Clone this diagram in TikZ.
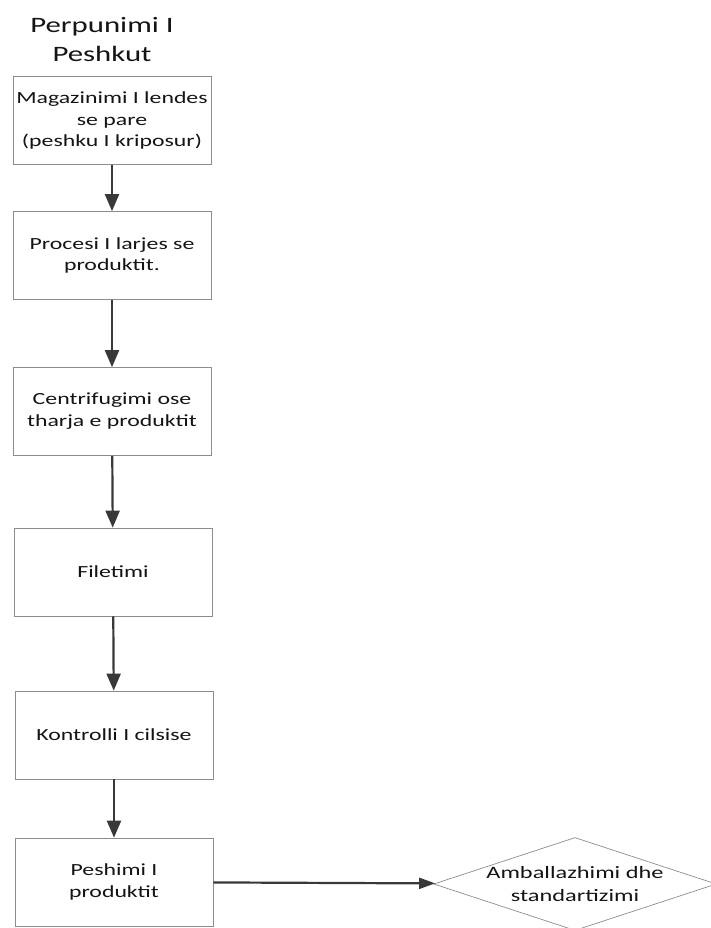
\documentclass[tikz,border=0pt]{standalone}
\usepackage{fontspec}
\setmainfont[FakeStretch=1.4]{Carlito}
\usetikzlibrary{arrows.meta,shapes.geometric}
\begin{document}
\begin{tikzpicture}[x=1pt,y=-1pt,
  stepbox/.style={draw=black!45, line width=0.7pt, minimum width=198pt, minimum height=88pt,
    align=center, inner sep=0pt, font=\fontsize{17}{21.8}\selectfont, text=black!92},
  decbox/.style={diamond, draw=black!45, line width=0.7pt, minimum width=280pt, minimum height=92pt,
    shape aspect=3.04, align=center, inner sep=0pt, font=\fontsize{17.4}{22.5}\selectfont, text=black!92},
  arr/.style={draw=black!78, line width=2.2pt, -{Triangle[width=14pt,length=17pt]}},
  harr/.style={draw=black!78, line width=2.2pt, -{Triangle[width=11pt,length=16pt]}}]
\useasboundingbox (0,0) rectangle (710,928);
\node[font=\fontsize{22}{29}\selectfont, align=center, text=black!92] (title) at (102,40) {Perpunimi I\\Peshkut};
\node[stepbox] (b1) at (112,120.5) {Magazinimi I lendes\\se pare\\(peshku I kriposur)};
\node[stepbox] (b2) at (112,255.5) {Procesi I larjes se\\produktit.};
\node[stepbox] (b3) at (112,411.5) {Centrifugimi ose\\tharja e produktit};
\node[stepbox] (b4) at (113,572) {Filetimi};
\node[stepbox] (b5) at (114,735) {Kontrolli I cilsise};
\node[stepbox] (b6) at (114,882) {Peshimi I\\produktit};
\node[decbox] (d) at (575,884) {Amballazhimi dhe\\standartizimi};
\draw[arr] (b1) -- (b2);
\draw[arr] (b2) -- (b3);
\draw[arr] (b3) -- (b4);
\draw[arr] (b4) -- (b5);
\draw[arr] (b5) -- (b6);
\draw[harr] (b6) -- (d);
\end{tikzpicture}
\end{document}
